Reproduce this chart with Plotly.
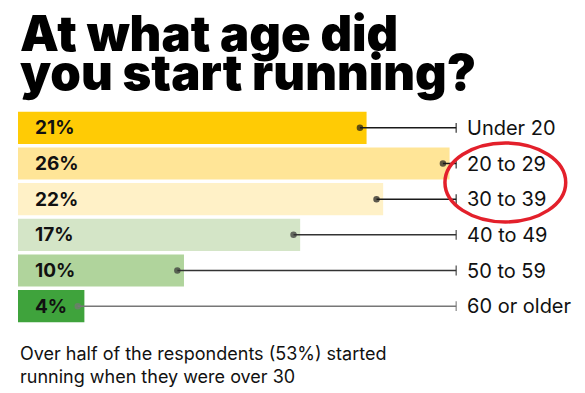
import plotly.graph_objects as go

categories = ["Under 20", "20 to 29", "30 to 39", "40 to 49", "50 to 59", "60 or older"]
values = [21, 26, 22, 17, 10, 4]
bar_colors = ["#FFCB05", "#FFE597", "#FFF1C7", "#D4E5C7", "#B0D49C", "#3FA33C"]
line_colors = ["#1a1a1a", "#1a1a1a", "#1a1a1a", "#333333", "#333333", "#777777"]
title_lines = ["At what age did", "you start running?"]
subtitle_lines = ["Over half of the respondents (53%) started", "running when they were over 30"]

X_MAX = 34.16
LINE_END = 26.4
LABEL_X = 26.93
DOT_OFFSET = 0.4

fig = go.Figure()
fig.add_trace(go.Bar(
    y=categories, x=values, orientation="h",
    marker=dict(color=bar_colors, line=dict(width=0)),
    hoverinfo="skip", showlegend=False,
))

for cat, v, lc in zip(categories, values, line_colors):
    fig.add_trace(go.Scatter(
        x=[v - DOT_OFFSET, LINE_END], y=[cat, cat], mode="lines+markers",
        line=dict(color=lc, width=1.5),
        marker=dict(symbol=["circle", "line-ns"], size=[5, 7], color=lc,
                    line=dict(color=lc, width=1.5)),
        hoverinfo="skip", showlegend=False, cliponaxis=False,
    ))
    fig.add_annotation(x=LABEL_X, y=cat, xref="x", yref="y", text=cat,
                       showarrow=False, xanchor="left", yanchor="middle",
                       font=dict(family="Inter", size=20, color="#111"))
    fig.add_annotation(x=0.9, y=cat, xref="x", yref="y", text=f"{v}%",
                       showarrow=False, xanchor="left", yanchor="middle",
                       font=dict(family="Inter", size=19, color="#111", weight=700))

title_y = [1.356, 1.174]
for t, yy in zip(title_lines, title_y):
    fig.add_annotation(x=0, y=yy, xref="paper", yref="paper", text=t,
                       showarrow=False, xanchor="left", yanchor="middle",
                       font=dict(family="Inter", size=49, color="#000", weight=900))

sub_y = [-0.138, -0.245]
for t, yy in zip(subtitle_lines, sub_y):
    fig.add_annotation(x=0, y=yy, xref="paper", yref="paper", text=t,
                       showarrow=False, xanchor="left", yanchor="middle",
                       font=dict(family="Inter", size=18, color="#111"))

fig.add_shape(type="circle", xref="paper", yref="paper",
              x0=0.753, x1=0.966, y0=0.477, y1=0.846,
              line=dict(color="#E3202B", width=3.5))

# page body has an 8px margin; figure is sized/offset to compensate
fig.update_layout(
    width=577, height=385,
    margin=dict(l=10, r=0, t=102, b=69),
    paper_bgcolor="white", plot_bgcolor="white",
    bargap=0.1,
    xaxis=dict(range=[0, X_MAX], visible=False, fixedrange=True),
    yaxis=dict(autorange="reversed", visible=False, fixedrange=True),
)

fig.write_html("out.html")
